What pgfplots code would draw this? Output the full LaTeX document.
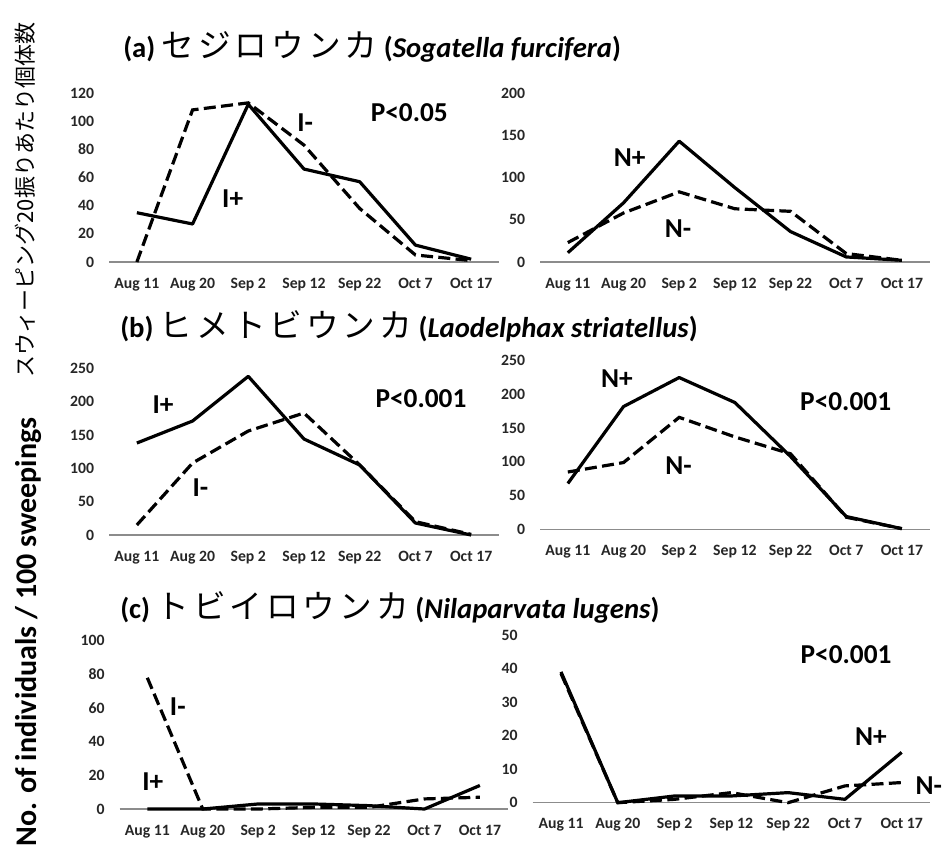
\documentclass[border=0pt]{standalone}
\usepackage{fontspec}
\setmainfont{Carlito}
\newfontfamily\jp{Noto Sans CJK JP}
\newfontfamily\jpt[LetterSpace=12]{Noto Sans CJK JP}
\usepackage{pgfplots}
\pgfplotsset{compat=1.18}
\pgfplotsset{
  panel/.style={
    scale only axis, clip=false,
    xmin=-0.5, xmax=6.5, ymin=0,
    axis x line*=bottom, axis y line*=left,
    x axis line style={draw=black!45, line width=1.1pt, -},
    y axis line style={draw=none},
    major tick length=0pt,
    xtick={0,...,6},
    xticklabels={Aug 11, Aug 20, Sep 2, Sep 12, Sep 22, Oct 7, Oct 17},
    /pgf/number format/assume math mode=true,
    tick label style={font=\bfseries\fontsize{11.8}{12}\selectfont, text=black!85, inner sep=0pt},
    yticklabel style={anchor=east, xshift=-11pt},
    xticklabel style={anchor=base, yshift=-19.5pt},
  },
}
\tikzset{
  solidl/.style={black, line width=2.4pt, line join=round},
  dashl/.style={black, line width=2.4pt, dash pattern=on 9pt off 4pt},
  lab/.style={font=\bfseries\fontsize{20.5}{22}\selectfont, inner sep=0pt},
  ttl/.style={anchor=west, inner sep=0pt, font=\bfseries\fontsize{21.5}{24}\selectfont},
}
\newcommand\jk[1]{{\jpt\mdseries\fontsize{24.5}{26}\selectfont #1}}
\begin{document}
\begin{tikzpicture}
\useasboundingbox (0,0) rectangle (708pt,-638.25pt);

% titles
\node[ttl] at (92.25pt,-35.25pt) {(a) \jk{セジロウンカ} (\textit{Sogatella furcifera})};
\node[ttl] at (90pt,-244.5pt) {(b) \jk{ヒメトビウンカ} (\textit{Laodelphax striatellus})};
\node[ttl] at (90pt,-455.25pt) {(c) \jk{トビイロウンカ} (\textit{Nilaparvata lugens})};

% left labels
\node[rotate=90, inner sep=0pt, font=\bfseries\fontsize{22.5}{24}\selectfont] at (21.75pt,-474pt) {No. of individuals / 100 sweepings};
\node[rotate=90, inner sep=0pt, font=\jp\fontsize{16.5}{18}\selectfont] at (18.75pt,-150pt) {スウィーピング20振りあたり個体数};

% (a) left
\begin{axis}[panel, at={(81.75pt,-196.5pt)}, width=292.5pt, height=126.75pt, ymax=120, ytick={0,20,...,120}]
\addplot[solidl, no marks] coordinates {(0,35)(1,27)(2,112)(3,66)(4,57)(5,12)(6,2)};
\addplot[dashl, no marks] coordinates {(0,0)(1,108)(2,113)(3,83)(4,38)(5,5)(6,1)};
\node[lab] at (axis cs:3.02,98.7) {I-};
\node[lab] at (axis cs:1.72,44.7) {I+};
\node[lab] at (axis cs:4.89,105.8) {P<0.05};
\end{axis}

% (a) right
\begin{axis}[panel, at={(405pt,-196.5pt)}, width=292.3pt, height=126.75pt, ymax=200, ytick={0,50,...,200}]
\addplot[solidl, no marks] coordinates {(0,11)(1,70)(2,143)(3,88)(4,36)(5,6)(6,2)};
\addplot[dashl, no marks] coordinates {(0,23)(1,58)(2,83)(3,63)(4,60)(5,10)(6,2)};
\node[lab] at (axis cs:1.11,124) {N+};
\node[lab] at (axis cs:1.98,40) {N-};
\end{axis}

% (b) left
\begin{axis}[panel, at={(81.75pt,-401.25pt)}, width=292.5pt, height=125pt, ymax=250, ytick={0,50,...,250}]
\addplot[solidl, no marks] coordinates {(0,138)(1,171)(2,238)(3,144)(4,105)(5,18)(6,0)};
\addplot[dashl, no marks] coordinates {(0,15)(1,108)(2,156)(3,183)(4,105)(5,20)(6,1)};
\node[lab] at (axis cs:0.47,195) {I+};
\node[lab] at (axis cs:1.14,70.5) {I-};
\node[lab] at (axis cs:5.1,205) {P<0.001};
\end{axis}

% (b) right
\begin{axis}[panel, at={(405pt,-397pt)}, width=292.3pt, height=126.5pt, ymax=250, ytick={0,50,...,250}]
\addplot[solidl, no marks] coordinates {(0,68)(1,182)(2,225)(3,188)(4,108)(5,19)(6,1)};
\addplot[dashl, no marks] coordinates {(0,85)(1,99)(2,166)(3,137)(4,112)(5,18)(6,1)};
\node[lab] at (axis cs:0.88,223) {N+};
\node[lab] at (axis cs:1.99,94) {N-};
\node[lab] at (axis cs:4.99,190) {P<0.001};
\end{axis}

% (c) left
\begin{axis}[panel, at={(89.7pt,-606.75pt)}, width=291pt, height=126.2pt, ymax=100, ytick={0,20,...,100}]
\addplot[solidl, no marks] coordinates {(0,0)(1,0)(2,3)(3,3)(4,2)(5,0)(6,14)};
\addplot[dashl, no marks] coordinates {(0,78)(1,0)(2,0)(3,1)(4,1)(5,6)(6,7)};
\node[lab] at (axis cs:0.55,61) {I-};
\node[lab] at (axis cs:0.10,16) {I+};
\end{axis}

% (c) right
\begin{axis}[panel, at={(399.45pt,-602pt)}, width=298.1pt, height=125.8pt, ymax=50, ytick={0,10,...,50}]
\addplot[solidl, no marks] coordinates {(0,39)(1,0)(2,2)(3,2)(4,3)(5,1)(6,15)};
\addplot[dashl, no marks] coordinates {(0,38.5)(1,0)(2,1)(3,3)(4,0)(5,5)(6,6)};
\node[lab] at (axis cs:5.02,44) {P<0.001};
\node[lab] at (axis cs:5.46,19.6) {N+};
\node[lab, anchor=west] at (axis cs:6.24,5) {N-};
\end{axis}
\end{tikzpicture}
\end{document}
